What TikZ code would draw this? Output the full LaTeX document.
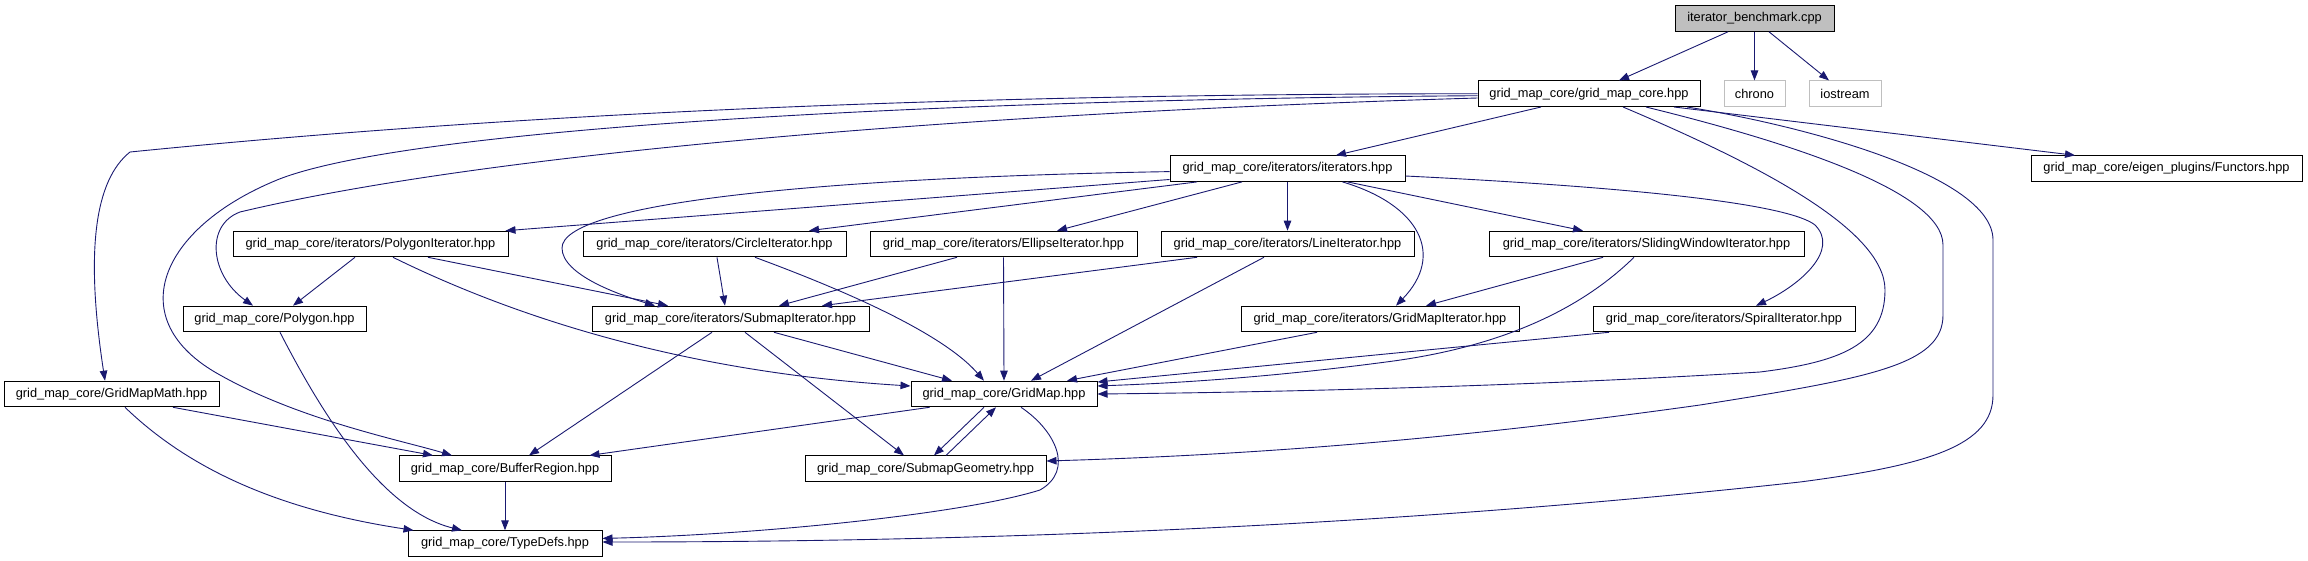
\documentclass[tikz,border=0pt]{standalone}
\usepackage{fontspec}
\setmainfont{Liberation Sans}
\usetikzlibrary{arrows.meta,calc}
\definecolor{edgeblue}{RGB}{25,25,112}
\definecolor{benchgray}{RGB}{191,191,191}
\definecolor{sysgray}{RGB}{191,191,191}
\begin{document}
\begin{tikzpicture}[x=1pt,y=-1pt,
  box/.style={draw=black, line width=1pt, fill=white, minimum height=25.6pt, inner sep=0pt,
    font=\fontsize{12.8pt}{15pt}\selectfont},
  sysbox/.style={box, draw=sysgray},
  edge/.style={draw=edgeblue, line width=0.9pt, -{Triangle[length=10pt,width=7.5pt]}}]
\useasboundingbox (0,0) rectangle (2308,560);
% row 0
\node[box, fill=benchgray, minimum width=159pt] (bench) at (1754.5,18.5) {iterator\_benchmark.cpp};
% row 1
\node[box, minimum width=222pt] (gmc) at (1589,93.7) {grid\_map\_core/grid\_map\_core.hpp};
\node[sysbox, minimum width=61pt] (chrono) at (1754.5,93.7) {chrono};
\node[sysbox, minimum width=72pt] (iostream) at (1845,93.7) {iostream};
% row 2
\node[box, minimum width=235pt] (iterators) at (1287.5,168.6) {grid\_map\_core/iterators/iterators.hpp};
\node[box, minimum width=271pt] (functors) at (2166.5,168.6) {grid\_map\_core/eigen\_plugins/Functors.hpp};
% row 3
\node[box, minimum width=275pt] (polyit) at (370.5,244) {grid\_map\_core/iterators/PolygonIterator.hpp};
\node[box, minimum width=263pt] (circleit) at (714.5,244) {grid\_map\_core/iterators/CircleIterator.hpp};
\node[box, minimum width=267pt] (ellipseit) at (1003.5,244) {grid\_map\_core/iterators/EllipseIterator.hpp};
\node[box, minimum width=253pt] (lineit) at (1287.5,244) {grid\_map\_core/iterators/LineIterator.hpp};
\node[box, minimum width=315pt] (sliding) at (1646.5,244) {grid\_map\_core/iterators/SlidingWindowIterator.hpp};
% row 4
\node[box, minimum width=183pt] (polygon) at (274.5,319) {grid\_map\_core/Polygon.hpp};
\node[box, minimum width=277pt] (submapit) at (730.5,319) {grid\_map\_core/iterators/SubmapIterator.hpp};
\node[box, minimum width=278pt] (gmit) at (1380,319) {grid\_map\_core/iterators/GridMapIterator.hpp};
\node[box, minimum width=262pt] (spiral) at (1724,319) {grid\_map\_core/iterators/SpiralIterator.hpp};
% row 5
\node[box, minimum width=215pt] (gmm) at (111.5,394) {grid\_map\_core/GridMapMath.hpp};
\node[box, minimum width=186pt] (gridmap) at (1004,394) {grid\_map\_core/GridMap.hpp};
% row 6
\node[box, minimum width=212pt] (bufreg) at (505,468.7) {grid\_map\_core/BufferRegion.hpp};
\node[box, minimum width=241pt] (subgeo) at (925.5,468.7) {grid\_map\_core/SubmapGeometry.hpp};
% row 7
\node[box, minimum width=194pt] (typedefs) at (505,543.6) {grid\_map\_core/TypeDefs.hpp};

% edges from benchmark
\draw[edge] ([xshift=-26.5pt]bench.south) -- ([xshift=30pt]gmc.north);
\draw[edge] (bench.south) -- (chrono.north);
\draw[edge] ([xshift=14.5pt]bench.south) -- ([xshift=-16pt]iostream.north);
% edges from grid_map_core
\draw[edge] ([xshift=-48pt]gmc.south) -- ([xshift=48.5pt]iterators.north);
\draw[edge] ([xshift=85pt]gmc.south) -- ([xshift=-91.5pt]functors.north);
\draw[edge] ([xshift=34pt]gmc.south) .. controls (1760,165) and (1885,230) .. (1885,290)
  .. controls (1885,345) and (1840,362) .. (1760,372)
  .. controls (1550,385) and (1300,392) .. (gridmap.east);
\draw[edge] ([xshift=57pt]gmc.south) .. controls (1780,140) and (1943,190) .. (1943,245) -- (1943,315)
  .. controls (1943,365) and (1870,378) .. (1700,405)
  .. controls (1450,440) and (1250,455) .. ([yshift=7.7pt]subgeo.east);
\draw[edge] ([xshift=98pt]gmc.south) .. controls (1800,125) and (1993,175) .. (1993,240) -- (1993,395)
  .. controls (1993,445) and (1930,465) .. (1800,482)
  .. controls (1500,515) and (1100,542) .. ([yshift=1.6pt]typedefs.east);
\draw[edge] (gmc.west) .. controls (1000,94) and (550,110) .. (130,152)
  .. controls (95,180) and (85,250) .. ([xshift=-6.5pt]gmm.north);
\draw[edge] ([yshift=-2pt]gmc.west) .. controls (900,100) and (400,130) .. (277,180)
  .. controls (160,228) and (120,320) .. (220,375)
  .. controls (300,420) and (400,440) .. ([xshift=-53pt]bufreg.north);
\draw[edge] ([yshift=-4.3pt]gmc.west) .. controls (1000,112) and (500,150) .. (240,212)
  .. controls (205,225) and (210,275) .. ([xshift=-21.5pt]polygon.north);
% edges from iterators
\draw[edge] ([yshift=-3pt]iterators.west) .. controls (800,178) and (562,205) .. (562,248)
  .. controls (562,275) and (620,295) .. ([xshift=-75.5pt]submapit.north);
\draw[edge] ([yshift=-10.9pt]iterators.west) -- ([xshift=-3pt]polyit.north east);
\draw[edge] ([xshift=-90.5pt]iterators.south) -- ([xshift=94.5pt]circleit.north);
\draw[edge] ([xshift=-45.5pt]iterators.south) -- ([xshift=53.5pt]ellipseit.north);
\draw[edge] (iterators.south) -- (lineit.north);
\draw[edge] ([xshift=55pt]iterators.south) .. controls (1420,205) and (1445,255) .. ([xshift=16pt]gmit.north);
\draw[edge] ([xshift=60pt]iterators.south) -- ([xshift=-63.5pt]sliding.north);
\draw[edge] ([yshift=-7.4pt]iterators.east) .. controls (1650,188) and (1790,205) .. (1815,225)
  .. controls (1840,250) and (1800,285) .. ([xshift=32pt]spiral.north);
% row 3 edges
\draw[edge] ([xshift=-15.5pt]polyit.south) -- ([xshift=18.5pt]polygon.north);
\draw[edge] ([xshift=57.5pt]polyit.south) -- ([xshift=-62.5pt]submapit.north);
\draw[edge] ([xshift=22.5pt]polyit.south) .. controls (480,300) and (650,370) .. ([yshift=8pt]gridmap.west);
\draw[edge] ([xshift=2.5pt]circleit.south) -- ([xshift=-5.5pt]submapit.north);
\draw[edge] ([xshift=40.5pt]circleit.south) .. controls (830,285) and (940,330) .. ([xshift=-20pt]gridmap.north);
\draw[edge] ([xshift=-46.5pt]ellipseit.south) -- ([xshift=48.5pt]submapit.north);
\draw[edge] (ellipseit.south) -- (gridmap.north);
\draw[edge] ([xshift=-90.5pt]lineit.south) -- ([xshift=91.5pt]submapit.north);
\draw[edge] ([xshift=-23.5pt]lineit.south) -- ([xshift=27pt]gridmap.north);
\draw[edge] ([xshift=-43.5pt]sliding.south) -- ([xshift=46pt]gmit.north);
\draw[edge] ([xshift=-12.5pt]sliding.south) .. controls (1570,320) and (1480,350) .. (1386,362)
  .. controls (1250,380) and (1150,384) .. ([yshift=8pt]gridmap.east);
% row 4 edges
\draw[edge] ([xshift=-63pt]gmit.south) -- ([xshift=63pt]gridmap.north);
\draw[edge] ([xshift=-115pt]spiral.south) -- ([yshift=12pt]gridmap.east);
\draw[edge] ([xshift=43.5pt]submapit.south) -- ([xshift=-52pt]gridmap.north);
\draw[edge] ([xshift=-18.5pt]submapit.south) -- ([xshift=24pt]bufreg.north);
\draw[edge] ([xshift=14.5pt]submapit.south) -- ([xshift=-21.5pt]subgeo.north);
\draw[edge] ([xshift=5.5pt]polygon.south) .. controls (320,410) and (380,510) .. ([xshift=-43pt]typedefs.north);
% row 5 edges
\draw[edge] ([xshift=19pt]gridmap.south west) -- ([xshift=-22pt]bufreg.north east);
\draw[edge] ([xshift=-20pt]gridmap.south) -- ([xshift=8.5pt]subgeo.north);
\draw[edge] ([xshift=20.5pt]subgeo.north) -- ([xshift=-8pt]gridmap.south);
\draw[edge] ([xshift=17pt]gridmap.south) .. controls (1055,430) and (1075,470) .. (1040,490)
  .. controls (960,515) and (750,535) .. ([yshift=5.2pt]typedefs.east);
\draw[edge] ([xshift=61.5pt]gmm.south) -- ([xshift=-72pt]bufreg.north);
\draw[edge] ([xshift=13.5pt]gmm.south) .. controls (190,470) and (280,510) .. ([xshift=6pt]typedefs.north west);
% row 6 edges
\draw[edge] (bufreg.south) -- (typedefs.north);
\end{tikzpicture}
\end{document}
